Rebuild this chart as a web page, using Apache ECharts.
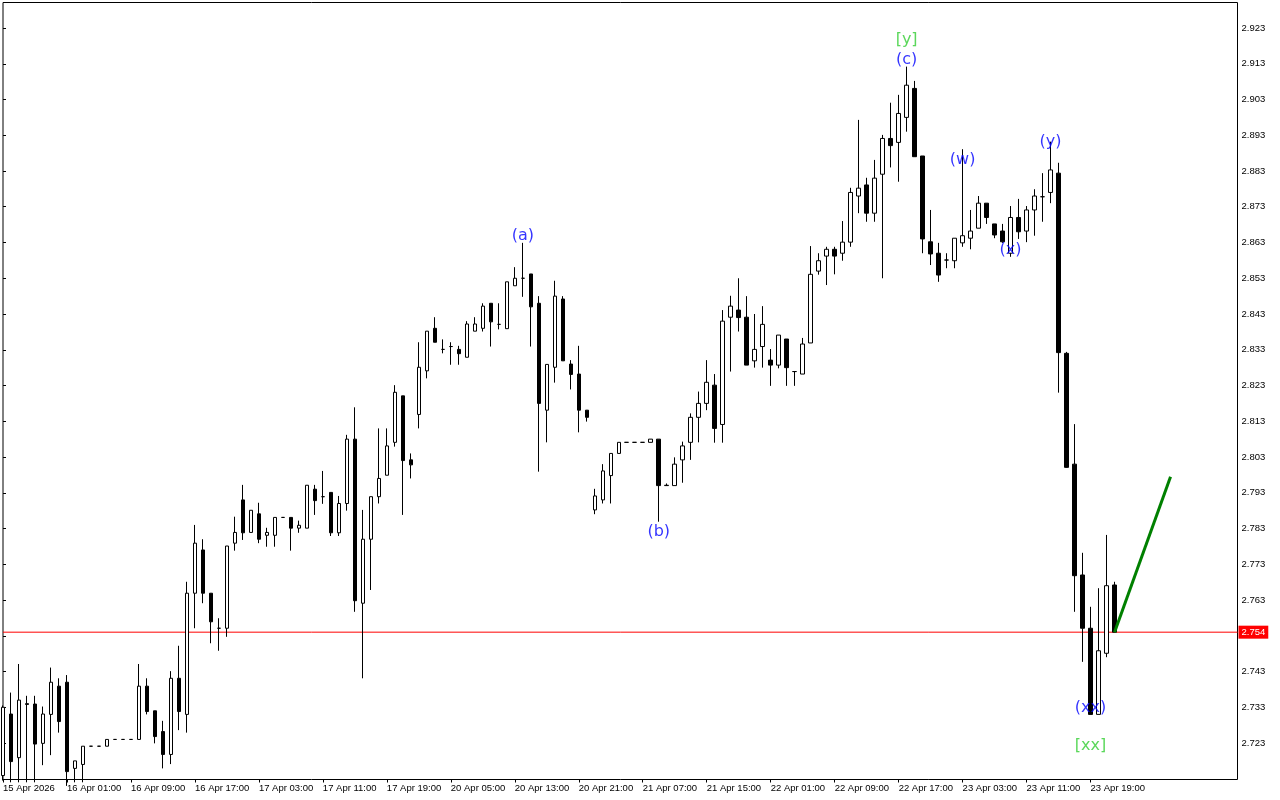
<!DOCTYPE html>
<html><head><meta charset="utf-8">
<script src="https://cdn.jsdelivr.net/npm/echarts@6/dist/echarts.min.js"></script>
<style>html,body{margin:0;padding:0;background:#fff}#c{width:1280px;height:800px}</style>
</head><body><div id="c"></div>
<script>
// ---- time axis labels (bar index -> text) ----
const timeLabelBars = [0,8,16,24,32,40,48,56,64,72,80,88,96,104,112,120,128,136];
const timeLabels = ['15 Apr 2026','16 Apr 01:00','16 Apr 09:00','16 Apr 17:00','17 Apr 03:00','17 Apr 11:00',
  '17 Apr 19:00','20 Apr 05:00','20 Apr 13:00','20 Apr 21:00','21 Apr 07:00','21 Apr 15:00',
  '22 Apr 01:00','22 Apr 09:00','22 Apr 17:00','23 Apr 03:00','23 Apr 11:00','23 Apr 19:00'];
// ---- price ticks ----
const priceTicks = [2.723,2.733,2.743,2.753,2.763,2.773,2.783,2.793,2.803,2.813,2.823,2.833,2.843,2.853,2.863,2.873,2.883,2.893,2.903,2.913,2.923];
// ---- hourly candles: [open, close, low, high] ----
const candles = [
[2.7139,2.7330,2.7125,2.7335],[2.7311,2.7178,2.7120,2.7371],[2.7189,2.7350,2.7120,2.7451],[2.7340,2.7338,2.7120,2.7362],
[2.7339,2.7227,2.7120,2.7362],[2.7229,2.7311,2.7168,2.7332],[2.7310,2.7400,2.7196,2.7441],[2.7389,2.7290,2.7259,2.7411],
[2.7400,2.7150,2.7110,2.7420],[2.7159,2.7180,2.7120,2.7180],[2.7170,2.7221,2.7120,2.7221],[2.7221,2.7221,2.7221,2.7221],
[2.7221,2.7221,2.7221,2.7221],[2.7221,2.7240,2.7221,2.7240],[2.7240,2.7240,2.7240,2.7240],[2.7240,2.7240,2.7240,2.7240],
[2.7240,2.7240,2.7240,2.7240],[2.7240,2.7389,2.7240,2.7451],[2.7389,2.7318,2.7310,2.7411],[2.7320,2.7248,2.7229,2.7320],
[2.7262,2.7198,2.7159,2.7292],[2.7198,2.7411,2.7171,2.7431],[2.7411,2.7318,2.7266,2.7502],[2.7310,2.7649,2.7259,2.7681],
[2.7649,2.7789,2.7551,2.7840],[2.7770,2.7649,2.7621,2.7800],[2.7649,2.7569,2.7509,2.7649],[2.7551,2.7551,2.7488,2.7579],
[2.7551,2.7781,2.7527,2.7781],[2.7789,2.7819,2.7768,2.7863],[2.7910,2.7818,2.7798,2.7952],[2.7819,2.7881,2.7819,2.7881],
[2.7871,2.7800,2.7789,2.7902],[2.7811,2.7819,2.7779,2.7832],[2.7811,2.7861,2.7779,2.7861],[2.7861,2.7861,2.7861,2.7861],
[2.7861,2.7831,2.7768,2.7861],[2.7831,2.7839,2.7818,2.7852],[2.7831,2.7951,2.7831,2.7951],[2.7940,2.7908,2.7868,2.7952],
[2.7919,2.7919,2.7899,2.7991],[2.7931,2.7818,2.7809,2.7931],[2.7818,2.7900,2.7809,2.7921],[2.7900,2.8080,2.7880,2.8092],
[2.8080,2.7628,2.7597,2.8169],[2.7621,2.7800,2.7411,2.7882],[2.7800,2.7919,2.7658,2.7919],[2.7919,2.7970,2.7900,2.8110],
[2.7979,2.8061,2.7979,2.8110],[2.8071,2.8211,2.8059,2.8231],[2.8201,2.8020,2.7868,2.8201],[2.8022,2.8008,2.7970,2.8040],
[2.8149,2.8281,2.8110,2.8351],[2.8271,2.8382,2.8250,2.8382],[2.8390,2.8351,2.8351,2.8421],[2.8331,2.8331,2.8320,2.8359],
[2.8339,2.8339,2.8288,2.8351],[2.8331,2.8319,2.8288,2.8341],[2.8309,2.8402,2.8309,2.8410],[2.8382,2.8402,2.8382,2.8421],
[2.8390,2.8452,2.8381,2.8460],[2.8460,2.8408,2.8339,2.8460],[2.8401,2.8401,2.8387,2.8460],[2.8389,2.8520,2.8389,2.8520],
[2.8509,2.8530,2.8509,2.8561],[2.8530,2.8530,2.8478,2.8629],[2.8542,2.8450,2.8339,2.8542],[2.8460,2.8180,2.7989,2.8480],
[2.8161,2.8289,2.8071,2.8289],[2.8281,2.8480,2.8238,2.8523],[2.8472,2.8299,2.8299,2.8480],[2.8290,2.8261,2.8219,2.8301],
[2.8262,2.8161,2.8099,2.8341],[2.8161,2.8141,2.8129,2.8161],[2.7882,2.7921,2.7870,2.7941],[2.7910,2.7991,2.7900,2.8010],
[2.7978,2.8040,2.7900,2.8040],[2.8040,2.8071,2.8040,2.8071],[2.8071,2.8071,2.8071,2.8071],[2.8071,2.8071,2.8071,2.8071],
[2.8071,2.8071,2.8071,2.8071],[2.8071,2.8080,2.8071,2.8080],[2.8080,2.7950,2.7849,2.8080],[2.7950,2.7951,2.7950,2.7956],
[2.7950,2.8010,2.7950,2.8029],[2.8022,2.8061,2.7958,2.8073],[2.8071,2.8141,2.8022,2.8152],[2.8141,2.8180,2.8071,2.8213],
[2.8180,2.8239,2.8161,2.8301],[2.8231,2.8110,2.8070,2.8262],[2.8121,2.8410,2.8070,2.8441],[2.8421,2.8452,2.8269,2.8481],
[2.8441,2.8420,2.8381,2.8530],[2.8421,2.8287,2.8287,2.8480],[2.8299,2.8331,2.8280,2.8430],[2.8339,2.8401,2.8280,2.8452],
[2.8301,2.8287,2.8229,2.8332],[2.8287,2.8371,2.8278,2.8371],[2.8360,2.8280,2.8229,2.8360],[2.8269,2.8269,2.8229,2.8269],
[2.8262,2.8346,2.8262,2.8363],[2.8349,2.8541,2.8349,2.8620],[2.8550,2.8579,2.8540,2.8600],[2.8592,2.8611,2.8511,2.8618],
[2.8611,2.8592,2.8541,2.8618],[2.8600,2.8631,2.8579,2.8690],[2.8631,2.8770,2.8618,2.8783],[2.8760,2.8782,2.8712,2.8973],
[2.8791,2.8712,2.8688,2.8811],[2.8712,2.8810,2.8688,2.8861],[2.8821,2.8921,2.8530,2.8931],[2.8921,2.8901,2.8840,2.9021],
[2.8910,2.8991,2.8800,2.9043],[2.8980,2.9070,2.8940,2.9122],[2.9061,2.8870,2.8870,2.9082],[2.8872,2.8640,2.8600,2.8872],
[2.8632,2.8598,2.8567,2.8721],[2.8600,2.8539,2.8520,2.8629],[2.8581,2.8581,2.8558,2.8600],[2.8579,2.8642,2.8558,2.8642],
[2.8629,2.8649,2.8618,2.8891],[2.8642,2.8662,2.8611,2.8721],[2.8670,2.8740,2.8670,2.8760],[2.8740,2.8700,2.8682,2.8740],
[2.8682,2.8651,2.8642,2.8682],[2.8662,2.8632,2.8629,2.8682],[2.8600,2.8700,2.8590,2.8732],[2.8700,2.8660,2.8640,2.8752],
[2.8662,2.8721,2.8631,2.8732],[2.8721,2.8760,2.8649,2.8779],[2.8758,2.8758,2.8688,2.8824],[2.8770,2.8833,2.8740,2.8912],
[2.8824,2.8322,2.8210,2.8853],[2.8320,2.8001,2.8000,2.8324],[2.8010,2.7698,2.7597,2.8122],[2.7700,2.7551,2.7457,2.7762],
[2.7551,2.7310,2.7310,2.7611],[2.7310,2.7488,2.7310,2.7663],[2.7481,2.7670,2.7470,2.7812],[2.7672,2.7540,2.7540,2.7681]
];
const currentPrice = 2.754;
// ---- wave annotations: [text, bar index, price] ----
const waveLabelsBlue = [['(a)',65,2.8654],['(b)',82,2.7826],['(c)',113,2.9146],['(w)',120,2.8866],['(x)',126,2.8615],['(y)',131,2.8917],['(xx)',136,2.7334]];
const waveLabelsGreen = [['[y]',113,2.9202],['[xx]',136,2.7228]];
// ---- projection line: [bar index, price] ----
const projection = [[139,2.754],[146,2.7975]];

const chart = echarts.init(document.getElementById('c'), null, {renderer:'canvas'});
const gridLeft = 2.5, gridRight = 42.5, gridTop = 2.5, gridBottom = 20.5;
const pxPerBar = 8;
const plotW = 1280 - gridLeft - gridRight;
const plotH = 800 - gridTop - gridBottom;
const pxPerUnit = 3575;
const yMax = 2.923 + (28 - gridTop) / pxPerUnit;
const yMin = yMax - plotH / pxPerUnit;
const xMax = plotW / pxPerBar;

const candleData = candles.map((c, i) => [i, c[0], c[1], c[2], c[3]]);
const fontAxis = {fontFamily:'Liberation Sans, Arial, sans-serif', fontSize:9.5, color:'#000'};
const labelSeries = (arr, color) => ({
  type:'scatter', symbolSize:0, silent:true, z:5,
  data: arr.map(a => ({value:[a[1], a[2]], name:a[0]})),
  label:{show:true, position:'inside', offset:[0,2], formatter: p => p.name, color, fontFamily:'DejaVu Sans, sans-serif', fontSize:16}
});

chart.setOption({
  animation:false,
  backgroundColor:'#fff',
  grid:{left:gridLeft, right:gridRight, top:gridTop, bottom:gridBottom, show:true, borderColor:'#000', borderWidth:1, backgroundColor:'#fff'},
  xAxis:{type:'value', min:0, max:xMax, splitLine:{show:false},
    axisLine:{show:false},
    axisTick:{show:true, length:3, customValues: timeLabelBars, lineStyle:{color:'#000'}},
    axisLabel:{show:true, customValues: timeLabelBars, align:'left', margin:4, ...fontAxis,
      formatter: v => timeLabels[timeLabelBars.indexOf(Math.round(v))] || ''}
  },
  yAxis:{type:'value', position:'right', min:yMin, max:yMax, scale:true, splitLine:{show:false},
    axisLine:{show:false},
    axisTick:{show:true, length:3, customValues: priceTicks, lineStyle:{color:'#000'}},
    axisLabel:{show:true, customValues: priceTicks, margin:4, ...fontAxis, formatter: v => v.toFixed(3)}
  },
  series:[
    {type:'line', data:[[0, currentPrice],[xMax, currentPrice]], symbol:'none', silent:true, z:1,
     lineStyle:{color:'#ff0000', width:1},
     endLabel:{show:true, distance:1, formatter: () => currentPrice.toFixed(3),
       backgroundColor:'#ff0000', color:'#fff', padding:[2,3,1,3], fontFamily:'Liberation Sans, Arial, sans-serif', fontSize:9.5}
    },
    {type:'candlestick', data:candleData, encode:{x:0, y:[1,2,3,4]}, barWidth:4, clip:true, z:2,
     itemStyle:{color:'#fff', color0:'#000', borderColor:'#000', borderColor0:'#000', borderWidth:1}
    },
    {type:'line', data:projection, symbol:'none', silent:true, z:4, lineStyle:{color:'#008000', width:3}},
    labelSeries(waveLabelsBlue, '#0000ff'),
    labelSeries(waveLabelsGreen, '#32cd32')
  ]
});
</script></body></html>
